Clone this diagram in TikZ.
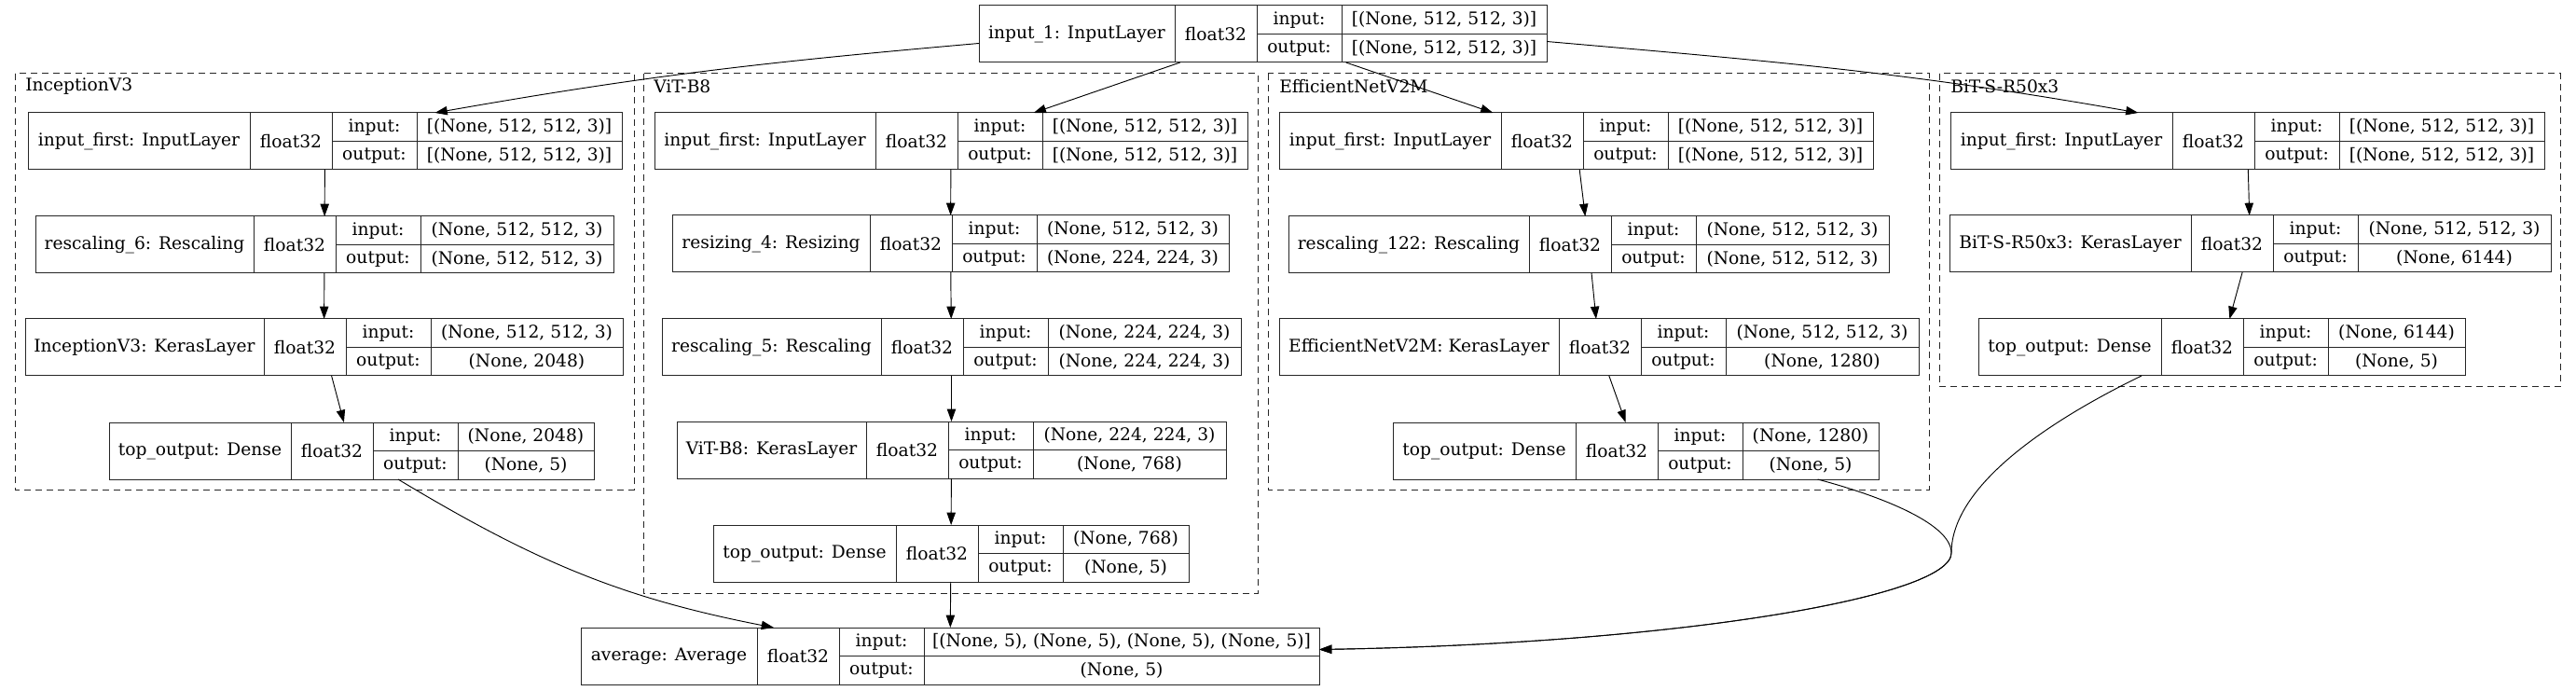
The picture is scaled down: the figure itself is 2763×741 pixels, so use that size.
\documentclass[tikz,border=0pt]{standalone}
\usepackage{fontspec}
\setmainfont{DejaVu Serif}
\usetikzlibrary{arrows.meta,positioning,fit,calc}

\newcommand{\pxu}{0.75pt}
% one layer record: name, x, y, label, name width, shape width, input, output
\newcommand{\kerasnode}[8]{%
  \node[cell, anchor=north west, minimum width=#5*\pxu, minimum height=61*\pxu] (#1-n) at (#2,#3) {#4};
  \node[cell, anchor=north west, minimum width=88*\pxu, minimum height=61*\pxu] (#1-t) at (#1-n.north east) {float32};
  \node[cell, anchor=north west, minimum width=91*\pxu, minimum height=30.5*\pxu] (#1-il) at (#1-t.north east) {input:};
  \node[cell, anchor=north west, minimum width=91*\pxu, minimum height=30.5*\pxu] (#1-ol) at (#1-il.south west) {output:};
  \node[cell, anchor=north west, minimum width=#6*\pxu, minimum height=30.5*\pxu] (#1-iv) at (#1-il.north east) {#7};
  \node[cell, anchor=north west, minimum width=#6*\pxu, minimum height=30.5*\pxu] (#1-ov) at (#1-iv.south west) {#8};
  \node[fit=(#1-n)(#1-ov), inner sep=0pt, outer sep=0pt] (#1) {};
}

\begin{document}
\begin{tikzpicture}[x=0.75pt, y=-0.75pt, font=\fontsize{14}{16}\selectfont,
  cell/.style={draw=black!85, line width=0.75pt, inner sep=0pt, outer sep=0pt},
  cluster/.style={draw=black!85, dash pattern=on 5.5pt off 3.5pt, line width=0.75pt},
  clusterlabel/.style={anchor=west, inner sep=0pt},
  flow/.style={-{Triangle[length=10pt,width=7pt]}, line width=0.7pt}]

\useasboundingbox (0,0) rectangle (2763,741);

% clusters
\draw[cluster] (16,79) rectangle (680,525);
\draw[cluster] (690,79) rectangle (1349,636);
\draw[cluster] (1360,79) rectangle (2069,525);
\draw[cluster] (2080,79) rectangle (2746,415);
\node[clusterlabel] (inclabel) at (27,93) {InceptionV3};
\node[clusterlabel] (vitlabel) at (701,93) {ViT-B8};
\node[clusterlabel] (efflabel) at (1372,93) {EfficientNetV2M};
\node[clusterlabel] (bitlabel) at (2092,93) {BiT-S-R50x3};

\kerasnode{in1}{1050}{6}{input\_1: InputLayer}{210}{220}{[(None, 512, 512, 3)]}{[(None, 512, 512, 3)]}

\kerasnode{incfirst}{30}{121}{input\_first: InputLayer}{238}{220}{[(None, 512, 512, 3)]}{[(None, 512, 512, 3)]}
\kerasnode{incresc}{38}{232}{rescaling\_6: Rescaling}{234}{207}{(None, 512, 512, 3)}{(None, 512, 512, 3)}
\kerasnode{inckeras}{27}{342}{InceptionV3: KerasLayer}{256}{206}{(None, 512, 512, 3)}{(None, 2048)}
\kerasnode{inctop}{117}{453}{top\_output: Dense}{195}{146}{(None, 2048)}{(None, 5)}

\kerasnode{vitfirst}{702}{121}{input\_first: InputLayer}{237}{220}{[(None, 512, 512, 3)]}{[(None, 512, 512, 3)]}
\kerasnode{vitresize}{721}{231}{resizing\_4: Resizing}{212}{206}{(None, 512, 512, 3)}{(None, 224, 224, 3)}
\kerasnode{vitresc}{710}{342}{rescaling\_5: Rescaling}{235}{207}{(None, 224, 224, 3)}{(None, 224, 224, 3)}
\kerasnode{vitkeras}{726}{452}{ViT-B8: KerasLayer}{203}{207}{(None, 224, 224, 3)}{(None, 768)}
\kerasnode{vittop}{765}{563}{top\_output: Dense}{196}{135}{(None, 768)}{(None, 5)}

\kerasnode{efffirst}{1372}{121}{input\_first: InputLayer}{238}{220}{[(None, 512, 512, 3)]}{[(None, 512, 512, 3)]}
\kerasnode{effresc}{1382}{232}{rescaling\_122: Rescaling}{258}{207}{(None, 512, 512, 3)}{(None, 512, 512, 3)}
\kerasnode{effkeras}{1372}{342}{EfficientNetV2M: KerasLayer}{300}{207}{(None, 512, 512, 3)}{(None, 1280)}
\kerasnode{efftop}{1494}{453}{top\_output: Dense}{196}{146}{(None, 1280)}{(None, 5)}

\kerasnode{bitfirst}{2092}{121}{input\_first: InputLayer}{238}{220}{[(None, 512, 512, 3)]}{[(None, 512, 512, 3)]}
\kerasnode{bitkeras}{2091}{231}{BiT-S-R50x3: KerasLayer}{259}{207}{(None, 512, 512, 3)}{(None, 6144)}
\kerasnode{bittop}{2122}{342}{top\_output: Dense}{196}{147}{(None, 6144)}{(None, 5)}

\kerasnode{avg}{623}{673}{average: Average}{189}{424}{[(None, 5), (None, 5), (None, 5), (None, 5)]}{(None, 5)}

% input to the four branches
\draw[flow] ($(in1.west)+(0,10)$) to[out=185,in=10] ($(incfirst.north)+(118,0)$);
\draw[flow] (in1) -- (vitfirst);
\draw[flow] (in1) -- (efffirst);
\draw[flow] ($(in1.east)+(0,8)$) to[out=-5,in=170] ($(bitfirst.north)+(-117,0)$);

\draw[flow] (incfirst) -- (incresc);
\draw[flow] (incresc) -- (inckeras);
\draw[flow] (inckeras) -- (inctop);

\draw[flow] (vitfirst) -- (vitresize);
\draw[flow] (vitresize) -- (vitresc);
\draw[flow] (vitresc) -- (vitkeras);
\draw[flow] (vitkeras) -- (vittop);

\draw[flow] (efffirst) -- (effresc);
\draw[flow] (effresc) -- (effkeras);
\draw[flow] (effkeras) -- (efftop);

\draw[flow] (bitfirst) -- (bitkeras);
\draw[flow] (bitkeras) -- (bittop);

% branches into the average
\coordinate (merge) at (2093,593);
\draw[flow] ($(inctop.south)+(50,0)$) to[out=-31,in=169] ($(avg.north)+(-189,0)$);
\draw[flow] (vittop) -- (avg);
\draw[flow] ($(efftop.south)+(195,0)$) .. controls (2010,530) and (2093,560) .. (merge)
  .. controls (2093,640) and (1800,690) .. ($(avg.east)+(0,-7)$);
\draw[flow] ($(bittop.south)+(-86,0)$) .. controls (2200,450) and (2093,520) .. (merge)
  .. controls (2093,640) and (1800,690) .. ($(avg.east)+(0,-7)$);

\end{tikzpicture}
\end{document}
